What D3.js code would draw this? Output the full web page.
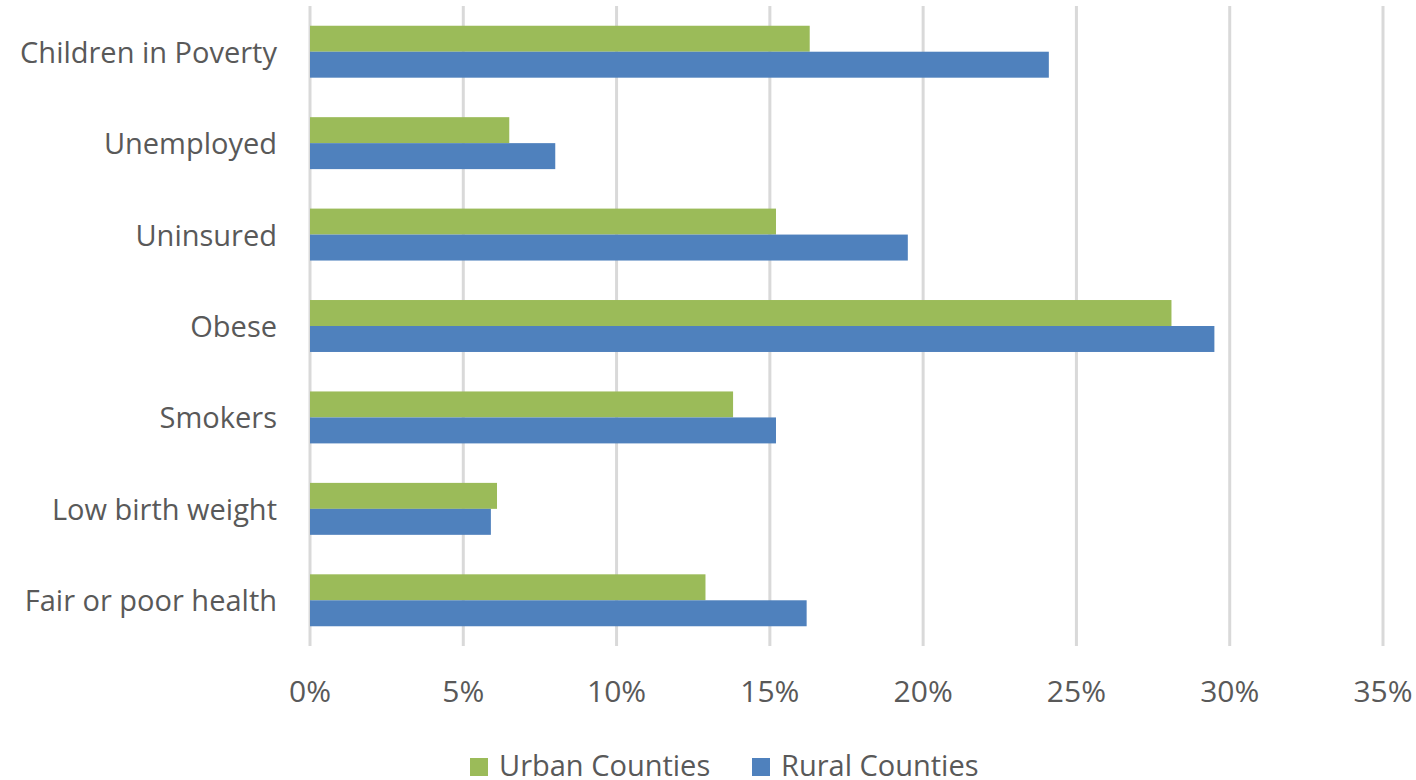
<!DOCTYPE html>
<html>
<head>
<meta charset="utf-8">
<script src="https://cdn.jsdelivr.net/npm/d3@7"></script>
<style>
  body { margin: 0; background: #fff; }
  text { font-family: "Open Sans", "Noto Sans", sans-serif; fill: #595959; }
</style>
</head>
<body>
<svg width="1416" height="780"></svg>
<script>
// categories, top to bottom
const categories = ["Children in Poverty", "Unemployed", "Uninsured", "Obese", "Smokers", "Low birth weight", "Fair or poor health"];
const seriesNames = ["Urban Counties", "Rural Counties"];
const urban = [16.3, 6.5, 15.2, 28.1, 13.8, 6.1, 12.9];
const rural = [24.1, 8.0, 19.5, 29.5, 15.2, 5.9, 16.2];
const xTicks = [0, 5, 10, 15, 20, 25, 30, 35];
const colors = ["#9BBB59", "#4F81BD"];

const svg = d3.select("svg");
const plotLeft = 310, plotRight = 1383, plotTop = 6, plotBottom = 646;

const x = d3.scaleLinear().domain([0, 35]).range([plotLeft, plotRight]);
const y = d3.scaleBand().domain(categories).range([plotTop, plotBottom]);
const ySub = d3.scaleBand().domain(seriesNames).range([0, y.bandwidth()]).paddingOuter(0.76);

// gridlines
svg.append("g")
  .selectAll("line")
  .data(xTicks)
  .join("line")
  .attr("x1", d => x(d)).attr("x2", d => x(d))
  .attr("y1", plotTop).attr("y2", plotBottom)
  .attr("stroke", "#d9d9d9")
  .attr("stroke-width", 3);

// bars
const rows = categories.map((c, i) => ({ cat: c, vals: [urban[i], rural[i]] }));
const groups = svg.append("g")
  .selectAll("g")
  .data(rows)
  .join("g")
  .attr("transform", d => `translate(0,${y(d.cat)})`);

groups.selectAll("rect")
  .data(d => d.vals.map((v, j) => ({ name: seriesNames[j], v, j })))
  .join("rect")
  .attr("x", x(0))
  .attr("y", d => ySub(d.name))
  .attr("width", d => x(d.v) - x(0))
  .attr("height", ySub.bandwidth())
  .attr("fill", d => colors[d.j]);

// category labels
svg.append("g")
  .selectAll("text")
  .data(categories)
  .join("text")
  .attr("x", 277)
  .attr("y", d => y(d) + y.bandwidth() / 2 + 11)
  .attr("text-anchor", "end")
  .style("font-size", "29px")
  .text(d => d);

// x tick labels
svg.append("g")
  .selectAll("text")
  .data(xTicks)
  .join("text")
  .attr("x", d => x(d))
  .attr("y", 702)
  .attr("text-anchor", "middle")
  .style("font-size", "30px")
  .text(d => d + "%");

// legend
const legendX = [470, 752];
const legend = svg.append("g")
  .selectAll("g")
  .data(seriesNames)
  .join("g")
  .attr("transform", (d, i) => `translate(${legendX[i]},758)`);
legend.append("rect")
  .attr("width", 18).attr("height", 18)
  .attr("fill", (d, i) => colors[i]);
legend.append("text")
  .attr("x", 29).attr("y", 18)
  .style("font-size", "29px")
  .text(d => d);
</script>
</body>
</html>
